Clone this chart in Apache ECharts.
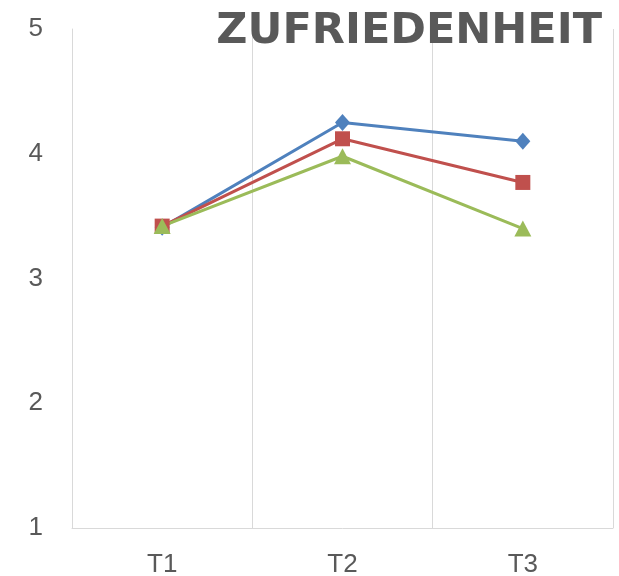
<!DOCTYPE html>
<html>
<head>
<meta charset="utf-8">
<script src="https://cdn.jsdelivr.net/npm/echarts@6/dist/echarts.min.js"></script>
<style>
  html, body { margin: 0; padding: 0; background: #fff; }
  #main { width: 619px; height: 576px; }
</style>
</head>
<body>
<div id="main"></div>
<script>
// Daten
var categories = ["T1", "T2", "T3"];
var blueValues = [3.41, 4.25, 4.10];
var redValues = [3.42, 4.12, 3.77];
var greenValues = [3.42, 3.98, 3.40];
var yTicks = [1, 2, 3, 4, 5];

var chart = echarts.init(document.getElementById("main"));

var option = {
  backgroundColor: "#fff",
  animation: false,
  title: {
    text: "ZUFRIEDENHEIT",
    right: 12,
    top: 5,
    textStyle: {
      fontFamily: "DejaVu Sans",
      fontWeight: "bold",
      fontSize: 43,
      color: "#595959"
    }
  },
  grid: {
    left: 72,
    right: 6,
    top: 29,
    bottom: 48,
    outerBoundsMode: "none"
  },
  xAxis: {
    type: "category",
    data: categories,
    boundaryGap: true,
    axisLine: { lineStyle: { color: "#d9d9d9", width: 1 } },
    axisTick: { show: false },
    splitLine: { show: true, lineStyle: { color: "#d9d9d9", width: 1 } },
    axisLabel: {
      margin: 24,
      fontFamily: "Liberation Sans",
      fontSize: 26,
      color: "#595959"
    }
  },
  yAxis: {
    type: "value",
    min: yTicks[0],
    max: yTicks[yTicks.length - 1],
    interval: 1,
    axisLine: { show: true, lineStyle: { color: "#d9d9d9", width: 1 } },
    axisTick: { show: false },
    splitLine: { show: false },
    axisLabel: {
      margin: 29,
      padding: [6, 0, 0, 0],
      fontFamily: "Liberation Sans",
      fontSize: 26,
      color: "#595959"
    }
  },
  series: [
    {
      name: "blau",
      type: "line",
      data: blueValues,
      symbol: "diamond",
      symbolSize: [15, 17],
      lineStyle: { color: "#4f81bd", width: 3 },
      itemStyle: { color: "#4f81bd" }
    },
    {
      name: "rot",
      type: "line",
      data: redValues,
      symbol: "rect",
      symbolSize: 15,
      lineStyle: { color: "#c0504d", width: 3 },
      itemStyle: { color: "#c0504d" }
    },
    {
      name: "gruen",
      type: "line",
      data: greenValues,
      symbol: "triangle",
      symbolSize: [17, 16],
      lineStyle: { color: "#9bbb59", width: 3 },
      itemStyle: { color: "#9bbb59" }
    }
  ]
};

chart.setOption(option);
</script>
</body>
</html>
